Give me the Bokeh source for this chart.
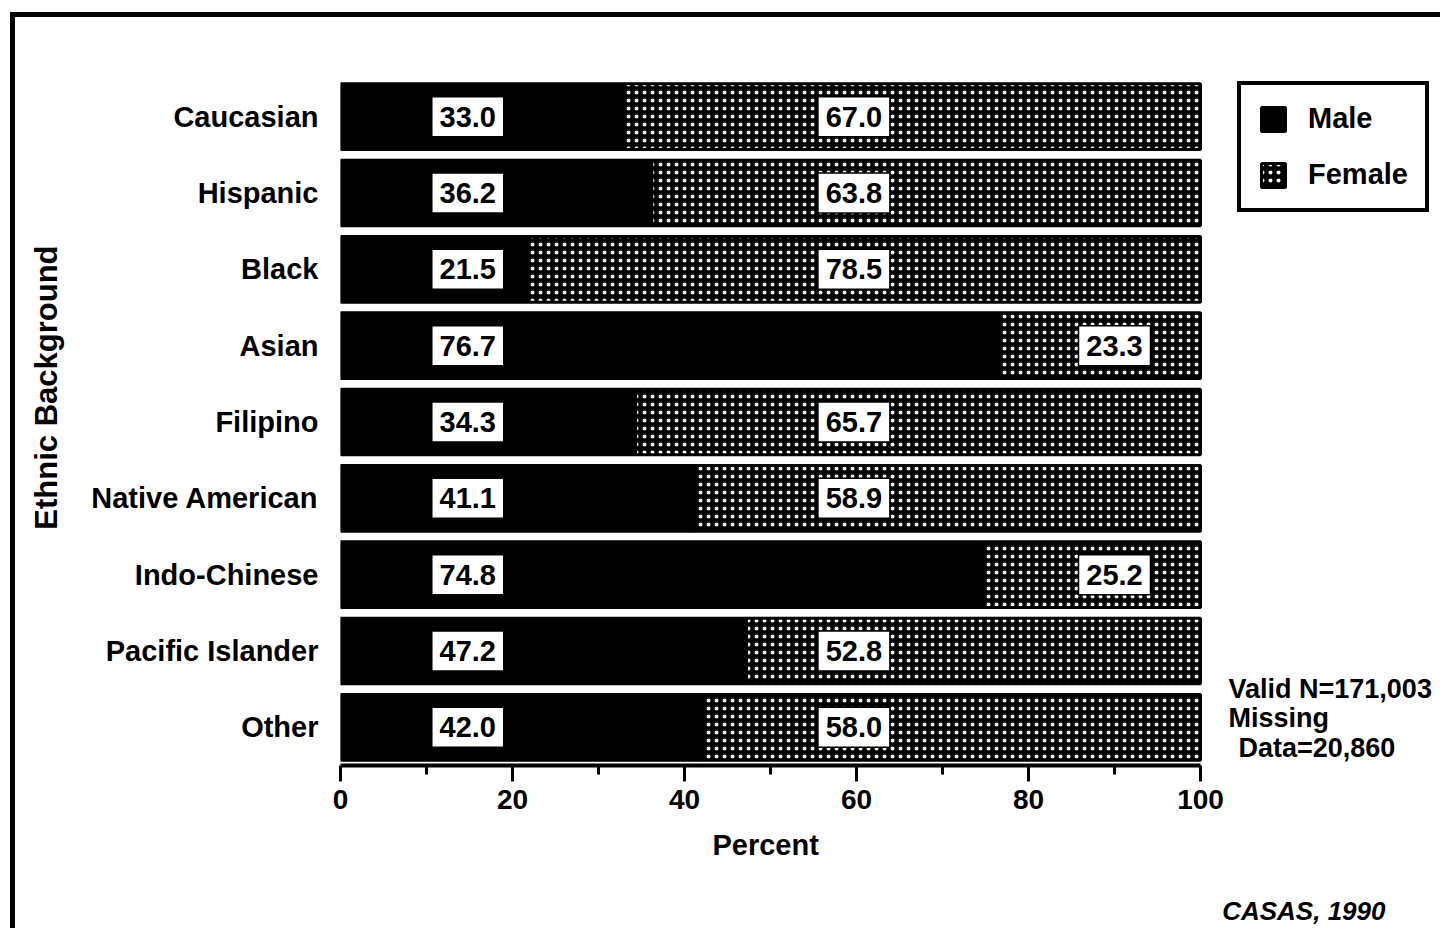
from bokeh.plotting import figure
from bokeh.models import (ColumnDataSource, FactorRange, Range1d, FixedTicker,
                          Legend, LegendItem, Label, Title)
from bokeh.core.properties import value
from bokeh.embed import file_html
from bokeh.resources import INLINE

# Enrollment by ethnic background, percent male / female
categories = ["Caucasian", "Hispanic", "Black", "Asian", "Filipino",
              "Native American", "Indo-Chinese", "Pacific Islander", "Other"]
male = [33.0, 36.2, 21.5, 76.7, 34.3, 41.1, 74.8, 47.2, 42.0]
female = [67.0, 63.8, 78.5, 23.3, 65.7, 58.9, 25.2, 52.8, 58.0]
x_ticks = [0, 20, 40, 60, 80, 100]
x_minor_ticks = [10, 30, 50, 70, 90]

FONT = "Liberation Sans"
W, H = 1440, 928
LEFT, TOP, BOTTOM = 340, 78, 163
SCALE_PX = 860  # pixels spanned by 0..100 percent
NBSP = "\u00a0"

src = ColumnDataSource(dict(
    cat=categories,
    male=male,
    female=female,
    total=[m + f for m, f in zip(male, female)],
    male_txt=[f"{v:.1f}" for v in male],
    female_txt=[f"{v:.1f}" for v in female],
    # value boxes: fixed column for male, female box moves right when narrow
    male_lx=[14.8 for _ in male],
    female_lx=[90.0 if f < 30 else 59.7 for f in female],
))

# the frame runs to the right edge so the legend and notes sit inside it
p = figure(width=W, height=H,
           x_range=Range1d(0, 100 * (W - LEFT) / SCALE_PX),
           y_range=FactorRange(factors=categories[::-1], range_padding=0),
           output_backend="svg", toolbar_location=None,
           min_border_left=LEFT, min_border_right=0,
           min_border_top=TOP, min_border_bottom=BOTTOM)

p.outline_line_color = None
p.xgrid.grid_line_color = None
p.ygrid.grid_line_color = None
p.background_fill_alpha = 0
p.border_fill_alpha = 0
# page rule along the left and top edges
p.styles = {"box-shadow": "inset 10px 12px 0 0 white, inset 15px 17px 0 0 black"}

r_male = p.hbar(y="cat", left=0, right="male", height=0.86, source=src,
                fill_color="black", line_color="black", line_width=3)
r_female = p.hbar(y="cat", left="male", right="total", height=0.86, source=src,
                  fill_color="black", hatch_pattern="dot",
                  hatch_color="white", hatch_scale=8, hatch_weight=1,
                  line_color="black", line_width=3)

# white value boxes
for xcol, tcol in (("male_lx", "male_txt"), ("female_lx", "female_txt")):
    p.rect(x=xcol, y="cat", width=72, height=40, width_units="screen",
           height_units="screen", source=src, fill_color="white",
           line_color="black", line_width=1.5)
    p.text(x=xcol, y="cat", text=tcol, source=src, text_align="center",
           text_baseline="middle", text_font=value(FONT),
           text_font_style="bold", text_font_size="29px", text_color="black")

# x axis
xa = p.xaxis[0]
xa.bounds = (0, 100)
xa.ticker = FixedTicker(ticks=x_ticks, minor_ticks=x_minor_ticks)
xa.axis_line_width = 4
xa.axis_line_color = "black"
xa.major_tick_line_width = 3
xa.major_tick_out = 16
xa.major_tick_in = 0
xa.minor_tick_line_width = 3
xa.minor_tick_out = 9
xa.minor_tick_in = 0
xa.major_label_standoff = 8
xa.major_label_text_font = FONT
xa.major_label_text_font_style = "bold"
xa.major_label_text_font_size = "28px"
xa.major_label_text_color = "black"
# trailing no-break spaces keep the title centred under the 0-100 scale
xa.axis_label = "Percent" + NBSP * 31
xa.axis_label_standoff = 17
xa.axis_label_text_font = FONT
xa.axis_label_text_font_style = "bold"
xa.axis_label_text_font_size = "29px"
xa.axis_label_text_color = "black"

# y axis
ya = p.yaxis[0]
ya.axis_line_color = None
ya.major_tick_line_color = None
ya.minor_tick_line_color = None
ya.major_label_standoff = 16
ya.major_label_text_font = FONT
ya.major_label_text_font_style = "bold"
ya.major_label_text_font_size = "29px"
ya.major_label_text_color = "black"
# leading no-break spaces lift the rotated title above the frame centre
ya.axis_label = NBSP * 8 + "Ethnic Background"
ya.axis_label_standoff = 24
ya.axis_label_text_font = FONT
ya.axis_label_text_font_style = "bold"
ya.axis_label_text_font_size = "31px"
ya.axis_label_text_color = "black"

legend = Legend(items=[LegendItem(label="Male", renderers=[r_male]),
                       LegendItem(label="Female", renderers=[r_female])],
                location=(897, 553), orientation="vertical",
                border_line_color="black", border_line_width=4,
                border_line_alpha=1,
                background_fill_color="white", background_fill_alpha=1,
                padding=17, spacing=23, margin=0,
                glyph_width=30, glyph_height=30, label_height=30,
                label_standoff=20, label_text_font=FONT,
                label_text_font_style="bold", label_text_font_size="29px",
                label_text_color="black")
p.add_layout(legend, "center")

note_style = dict(x_units="screen", y_units="screen", text_font=FONT,
                  text_font_style="bold", text_font_size="27px",
                  text_color="black", text_baseline="middle")
p.add_layout(Label(x=888, y=77, text="Valid N=171,003", **note_style))
p.add_layout(Label(x=888, y=48, text="Missing", **note_style))
p.add_layout(Label(x=898, y=18, text="Data=20,860", **note_style))

# source line in the bottom-right corner; the blank first line drops it lower
p.add_layout(Title(text="\nCASAS, 1990", align="right", offset=55, standoff=0,
                   text_font=FONT, text_font_style="bold italic",
                   text_font_size="26px", text_color="black"), "below")

open("out.html", "w").write(file_html(p, INLINE))
